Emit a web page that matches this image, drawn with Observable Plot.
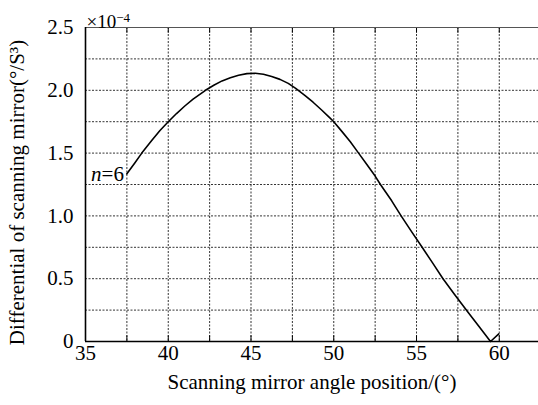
<!DOCTYPE html>
<html>
<head>
<meta charset="utf-8">
<script src="https://cdn.jsdelivr.net/npm/d3@7"></script>
<script src="https://cdn.jsdelivr.net/npm/@observablehq/plot@0.6"></script>
<style>
  html, body { margin: 0; padding: 0; background: #fff; }
</style>
</head>
<body>
<div id="chart"></div>
<script>
// Scanning mirror angle position (°)
const angle = [37.5, 38.0, 38.4, 39.0, 39.5, 40.0, 40.5, 41.0, 41.5, 42.25, 42.75, 43.25, 43.75, 44.25, 44.75, 45.25,
  45.75, 46.25, 46.75, 47.25, 47.7, 48.25, 48.75, 49.25, 49.75, 50.0, 50.5, 51.0, 51.5, 52.0, 52.5, 52.82,
  53.5, 54.07, 54.7, 55.34, 56.0, 56.6, 57.3, 58.1, 58.8, 59.47, 59.97];
// Differential of scanning mirror (×10^-4 °/S³)
const diff = [1.335, 1.425, 1.5, 1.6, 1.68, 1.75, 1.815, 1.875, 1.93, 2.0, 2.04, 2.075, 2.10, 2.12, 2.133, 2.136,
  2.128, 2.11, 2.087, 2.055, 2.015, 1.96, 1.905, 1.845, 1.782, 1.75, 1.671, 1.59, 1.5, 1.41, 1.317, 1.25,
  1.12, 1.0, 0.875, 0.75, 0.62, 0.5, 0.375, 0.235, 0.115, 0.0, 0.06];

const xTicks = [35, 40, 45, 50, 55, 60];
const yTicks = [0, 0.5, 1.0, 1.5, 2.0, 2.5];
const xGrid = [37.5, 40, 42.5, 45, 47.5, 50, 52.5, 55, 57.5, 60];
const yGrid = [0.25, 0.5, 0.75, 1.0, 1.25, 1.5, 1.75, 2.0, 2.25];

const xTitle = "Scanning mirror angle position/(°)";
const yTitle = "Differential of scanning mirror(°/S³)";
const seriesLabel = "n=6";

const data = angle.map((a, i) => ({angle: a, diff: diff[i]}));
const font = "'Liberation Serif', 'Times New Roman', serif";

const chart = Plot.plot({
  width: 538,
  height: 405,
  marginLeft: 85,
  marginTop: 27,
  marginRight: 0,
  marginBottom: 64,
  x: {domain: [35, 62.37]},
  y: {domain: [0, 2.5]},
  style: {fontFamily: font, fontSize: "21px", background: "#fff", color: "#000"},
  marks: [
    Plot.gridX(xGrid, {stroke: "#000", strokeOpacity: 0.8, strokeDasharray: "2,1.5", strokeWidth: 1}),
    Plot.gridY(yGrid, {stroke: "#000", strokeOpacity: 0.8, strokeDasharray: "2,1.5", strokeWidth: 1}),
    Plot.ruleX(xGrid, {y1: 0, y2: 0.045, stroke: "#000", strokeWidth: 1}),
    Plot.ruleX(xGrid, {y1: 2.455, y2: 2.5, stroke: "#000", strokeWidth: 1}),
    Plot.ruleY([2.5], {stroke: "#555", strokeWidth: 1.2}),
    Plot.ruleY([0], {stroke: "#000", strokeWidth: 1.6}),
    Plot.ruleX([35], {stroke: "#000", strokeWidth: 1.6}),
    Plot.axisX(xTicks, {tickSize: 0, tickPadding: 4, fontSize: 21, label: null, tickFormat: d => String(d)}),
    Plot.axisY(yTicks, {tickSize: 0, tickPadding: 12, fontSize: 21, label: null,
      tickFormat: d => d === 0 ? "0" : d.toFixed(1)}),
    Plot.line(data, {x: "angle", y: "diff", stroke: "#000", strokeWidth: 1.6, curve: "linear"}),
    Plot.text([seriesLabel], {x: [angle[0]], y: [diff[0]], text: d => d, textAnchor: "end", dx: -3,
      fontSize: 21, className: "nlabel"}),
    Plot.text([xTitle], {frameAnchor: "bottom", dy: 47, fontSize: 21}),
    Plot.text([yTitle], {frameAnchor: "left", textAnchor: "middle", rotate: -90, dx: -68, dy: 8, fontSize: 21}),
    Plot.text(["×10"], {frameAnchor: "top-left", textAnchor: "start", dx: 1, dy: -13, fontSize: 19, className: "exp"})
  ]
});

document.getElementById("chart").appendChild(chart);

// superscript exponent
d3.select(chart).selectAll(".exp text").each(function() {
  const t = d3.select(this);
  t.text("×10");
  t.append("tspan").attr("font-size", 13).attr("dy", "-0.45em").text("−4");
});
// italic n
d3.select(chart).selectAll(".nlabel text").each(function() {
  const t = d3.select(this);
  t.text("");
  t.append("tspan").attr("font-style", "italic").text("n");
  t.append("tspan").text("=6");
});
</script>
</body>
</html>
